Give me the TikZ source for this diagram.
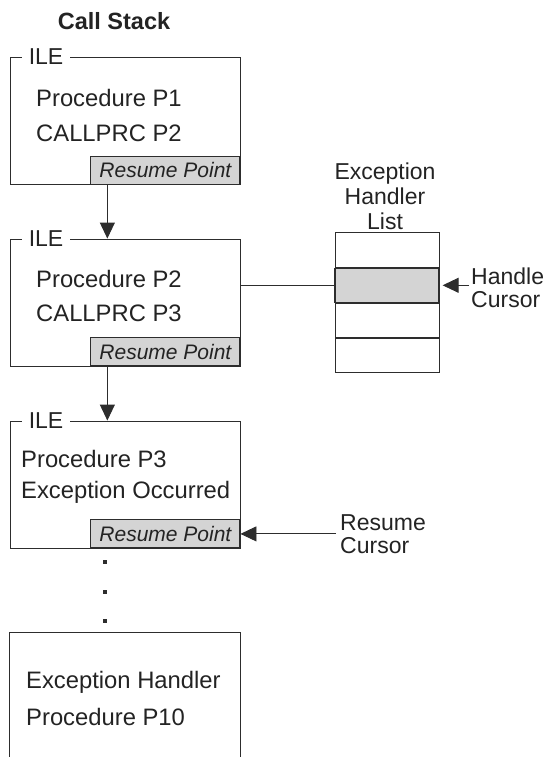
\documentclass[tikz,border=0pt]{standalone}
\usepackage{fontspec}
\setmainfont{Liberation Sans}
\usepackage{tikz}
\usetikzlibrary{arrows.meta, positioning}
\definecolor{myline}{RGB}{45,45,45}
\definecolor{mytext}{RGB}{35,35,35}
\definecolor{mygray}{RGB}{212,212,212}
\tikzset{
  frame/.style={rectangle, draw=myline, line width=0.9pt,
    minimum width=230pt, minimum height=127pt, inner sep=0pt},
  tag/.style={fill=white, inner xsep=7pt, inner ysep=1pt, text=mytext,
    font=\fontsize{23}{24}\selectfont},
  resume/.style={rectangle, draw=myline, fill=mygray, line width=1.1pt,
    minimum width=149pt, minimum height=28pt, inner sep=0pt, text=mytext,
    font=\fontsize{21}{22}\selectfont\itshape},
  txt/.style={anchor=west, inner sep=0pt, text=mytext,
    font=\fontsize{23.8}{26}\selectfont},
  side/.style={anchor=west, inner sep=2pt, align=left, text=mytext,
    font=\fontsize{23}{23}\selectfont},
  cell/.style={rectangle, draw=myline, line width=0.9pt,
    minimum width=104pt, minimum height=34.25pt, inner sep=0pt},
  curcell/.style={cell, fill=mygray, line width=1.2pt},
  dot/.style={rectangle, fill=myline, minimum size=3.8pt, inner sep=0pt},
  arrow/.style={-{Triangle[length=16pt, width=15pt]}, line width=0.9pt, color=myline},
  line/.style={line width=0.9pt, color=myline}
}

\begin{document}
\begin{tikzpicture}[x=1pt, y=-1pt]
  \useasboundingbox (0,0) rectangle (550,757);

  % Title
  \node[font=\fontsize{23.5}{26}\selectfont\bfseries, text=mytext] (title) at (114,21) {Call Stack};

  % Stack frames
  \node[frame] (ile1) at (125,121) {};
  \node[frame] (ile2) at (125,302.5) {};
  \node[frame] (ile3) at (125,484.5) {};
  \node[frame, draw=none, minimum height=124pt] (ile4) at (125,695) {};
  \draw[line] (ile4.south west) |- (ile4.north east) -- (ile4.south east);

  % ILE tags
  \node[tag, right=12pt of ile1.north west] (tag1) {ILE};
  \node[tag, right=12pt of ile2.north west] (tag2) {ILE};
  \node[tag, right=12pt of ile3.north west] (tag3) {ILE};

  % Frame contents
  \node[txt] (p1) at (36,98) {Procedure P1};
  \node[txt] (c1) at (36,133) {CALLPRC P2};
  \node[txt] (p2) at (36,279) {Procedure P2};
  \node[txt] (c2) at (36,313) {CALLPRC P3};
  \node[txt] (p3) at (21,459) {Procedure P3};
  \node[txt] (c3) at (21,492) {Exception Occurred};
  \node[txt] (p4) at (26,682) {Exception Handler};
  \node[txt] (c4) at (26,717) {Procedure P10};

  % Resume points
  \node[resume, anchor=south east] (rp1) at (ile1.south east) {Resume Point};
  \node[resume, anchor=south east] (rp2) at (ile2.south east) {Resume Point};
  \node[resume, anchor=south east] (rp3) at (ile3.south east) {Resume Point};

  % Calls
  \draw[arrow] ([xshift=17pt]rp1.south west) -- ([xshift=17pt]rp1.south west |- ile2.north);
  \draw[arrow] ([xshift=17pt]rp2.south west) -- ([xshift=17pt]rp2.south west |- ile3.north);

  % Dots
  \node[dot] (d1) at (105,562) {};
  \node[dot] (d2) at (105,592) {};
  \node[dot] (d3) at (105,621) {};

  % Exception handler list
  \node[font=\fontsize{23}{25}\selectfont, align=center, text=mytext] (lst) at (385,196) {Exception\\Handler\\List};
  \node[cell] (h1) at (387,250) {};
  \node[curcell, below=0pt of h1] (h2) {};
  \node[cell, below=0pt of h2] (h3) {};
  \node[cell, below=0pt of h3] (h4) {};
  \draw[line] (ile2.east |- h2.west) -- (h2.west);

  % Cursors
  \node[side] (hc) at (469,288) {Handle\\Cursor};
  \draw[arrow, shorten >=3pt] (hc.west |- h2.east) -- (h2.east);
  \node[side] (rc) at (338,534) {Resume\\Cursor};
  \draw[arrow] ([xshift=-2pt]rc.west |- rp3.east) -- (rp3.east);
\end{tikzpicture}
\end{document}
